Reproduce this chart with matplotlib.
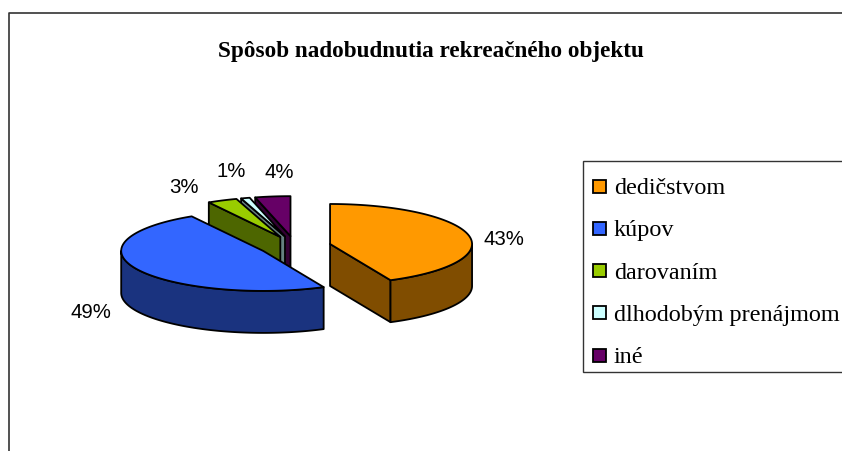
import numpy as np
import matplotlib
matplotlib.use('Agg')
import matplotlib.pyplot as plt
from matplotlib.patches import Polygon, Rectangle

# Chart data
categories = ['dedičstvom', 'kúpov', 'darovaním', 'dlhodobým prenájmom', 'iné']
shares = [43, 48.6, 3.4, 1, 4]
labels = ['43%', '49%', '3%', '1%', '4%']
top_colors = ['#FF9900', '#3366FF', '#99CC00', '#CCFFFF', '#660066']
side_colors = ['#804D00', '#1A337F', '#4D6600', '#668080', '#330033']
title = 'Spôsob nadobudnutia rekreačného objektu'

# Pie geometry in pixels (the axes use image pixels)
cx, cy = 295, 247.2
rx, ry = 142, 40
depth = 42
explode = 0.253
label_pos = [(504, 240), (91, 313), (184, 188), (231, 172), (279, 173)]


def point(center, angle):
    a = np.radians(angle)
    return center[0] + rx * np.sin(a), center[1] - ry * np.cos(a)


def arc(center, a0, a1):
    steps = max(int(abs(a1 - a0)), 2)
    x, y = point(center, np.linspace(a0, a1, steps))
    return np.column_stack([x, y])


fig = plt.figure(figsize=(8.42, 4.52), dpi=100)
ax = fig.add_axes([0, 0, 1, 1])
ax.set_xlim(0, 842)
ax.set_ylim(452, 0)
ax.axis('off')

# Outer frame runs off the right and bottom of the picture
ax.plot([9, 9, 842], [452, 14, 14], color='#333333', lw=1.2)

ax.text(431, 51, title, family='Liberation Serif', weight='bold', fontsize=16.7,
        ha='center', va='center')

# Slice angles, clockwise from 12 o'clock
edges = np.cumsum([0] + shares) * 3.6

# Back slices first, then the big ones
for i in [4, 3, 2, 1, 0]:
    a0, a1 = edges[i], edges[i + 1]
    mid = (a0 + a1) / 2
    m = np.radians(mid)
    c = (cx + explode * rx * np.sin(m), cy - explode * ry * np.cos(m))
    down = np.array([0, depth])
    style = dict(edgecolor='black', lw=1.3, joinstyle='round')

    # Radial faces that look towards the viewer
    for angle, visible in [(a0, 180 < a0 < 360), (a1, 0 < a1 < 180)]:
        if visible:
            tip = np.array(c)
            rim = np.array(point(c, angle))
            ax.add_patch(Polygon([tip, rim, rim + down, tip + down],
                                 facecolor=side_colors[i], **style))

    # Rim of the slice, only the front half shows
    lo, hi = max(a0, 90), min(a1, 270)
    if lo < hi:
        rim = arc(c, lo, hi)
        ax.add_patch(Polygon(np.vstack([rim, rim[::-1] + down]),
                             facecolor=side_colors[i], **style))

    # Top face
    ax.add_patch(Polygon(np.vstack([[c], arc(c, a0, a1)]),
                         facecolor=top_colors[i], **style))

    ax.text(label_pos[i][0], label_pos[i][1], labels[i], family='Liberation Sans',
            fontsize=14.7, ha='center', va='center')

# Legend
ax.add_patch(Rectangle((583, 162), 270, 211, facecolor='white', edgecolor='#333333', lw=1))
for i, name in enumerate(categories):
    y = 187 + i * 42.3
    ax.add_patch(Rectangle((593, y - 6.5), 13, 13, facecolor=top_colors[i],
                           edgecolor='black', lw=1.3))
    ax.text(614, y + 1.5, name, family='Liberation Serif', fontsize=17.4, ha='left', va='center')

fig.savefig('out.png', dpi=100)
